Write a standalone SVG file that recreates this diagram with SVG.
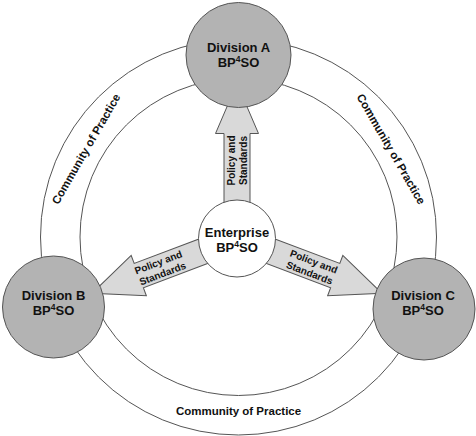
<svg xmlns="http://www.w3.org/2000/svg" width="476" height="436" viewBox="0 0 476 436">
<style>
.ring{fill:none;stroke:#555;stroke-width:1}
.div{fill:#b3b3b3;stroke:#555;stroke-width:1}
.ent{fill:#fff;stroke:#555;stroke-width:1}
.arrow{fill:#d9d9d9;stroke:#555;stroke-width:1}
.lbl{font-family:"Liberation Sans",Arial,sans-serif;font-weight:bold;font-size:13px;fill:#111;text-anchor:middle}
.sm{font-family:"Liberation Sans",Arial,sans-serif;font-weight:bold;font-size:10px;fill:#111;text-anchor:middle}
.cop{font-family:"Liberation Sans",Arial,sans-serif;font-weight:bold;font-size:11.5px;fill:#111;text-anchor:middle}
</style>
<defs>
<path id="arr" d="M-13,-30 L-13,-105 L-21.5,-105 L0,-155 L21.5,-105 L13,-105 L13,-30 Z"/>
</defs>
<rect width="476" height="436" fill="#fff"/>
<g id="rings">
<circle class="ring" cx="238.5" cy="237" r="198"/>
<circle class="ring" cx="238.5" cy="237" r="158.5"/>
<text class="cop" x="238.5" y="415">Community of Practice</text>
<text class="cop" transform="translate(86,149) rotate(-60)" y="4">Community of Practice</text>
<text class="cop" transform="translate(391,149) rotate(60)" y="4">Community of Practice</text>
</g>
<g id="connectors">
<g transform="translate(237,238.5)">
<use href="#arr" class="arrow"/>
<g transform="translate(0,-78) rotate(-90)"><text class="sm" y="-2">Policy and</text><text class="sm" y="10">Standards</text></g>
</g>
<g transform="translate(237,238.5) rotate(-110.7)">
<use href="#arr" class="arrow"/>
<g transform="translate(0,-82) rotate(90)"><text class="sm" y="-2">Policy and</text><text class="sm" y="10">Standards</text></g>
</g>
<g transform="translate(237,238.5) rotate(110.7)">
<use href="#arr" class="arrow"/>
<g transform="translate(0,-80) rotate(-90)"><text class="sm" y="-2">Policy and</text><text class="sm" y="10">Standards</text></g>
</g>
</g>
<g id="enterprise">
<circle class="ent" cx="237" cy="238.5" r="38.5"/>
<text class="lbl" x="237" y="237">Enterprise</text>
<text class="lbl" x="237" y="252">BP<tspan font-size="8.5" dy="-5">4</tspan><tspan dy="5">SO</tspan></text>
</g>
<g id="divisionA">
<circle class="div" cx="238.5" cy="55" r="52.5"/>
<text class="lbl" x="238.5" y="52">Division A</text>
<text class="lbl" x="238.5" y="67">BP<tspan font-size="8.5" dy="-5">4</tspan><tspan dy="5">SO</tspan></text>
</g>
<g id="divisionB">
<circle class="div" cx="53.5" cy="307" r="51"/>
<text class="lbl" x="53.5" y="300">Division B</text>
<text class="lbl" x="53.5" y="315">BP<tspan font-size="8.5" dy="-5">4</tspan><tspan dy="5">SO</tspan></text>
</g>
<g id="divisionC">
<circle class="div" cx="424" cy="309" r="51"/>
<text class="lbl" x="423" y="300">Division C</text>
<text class="lbl" x="423" y="315">BP<tspan font-size="8.5" dy="-5">4</tspan><tspan dy="5">SO</tspan></text>
</g>
</svg>
